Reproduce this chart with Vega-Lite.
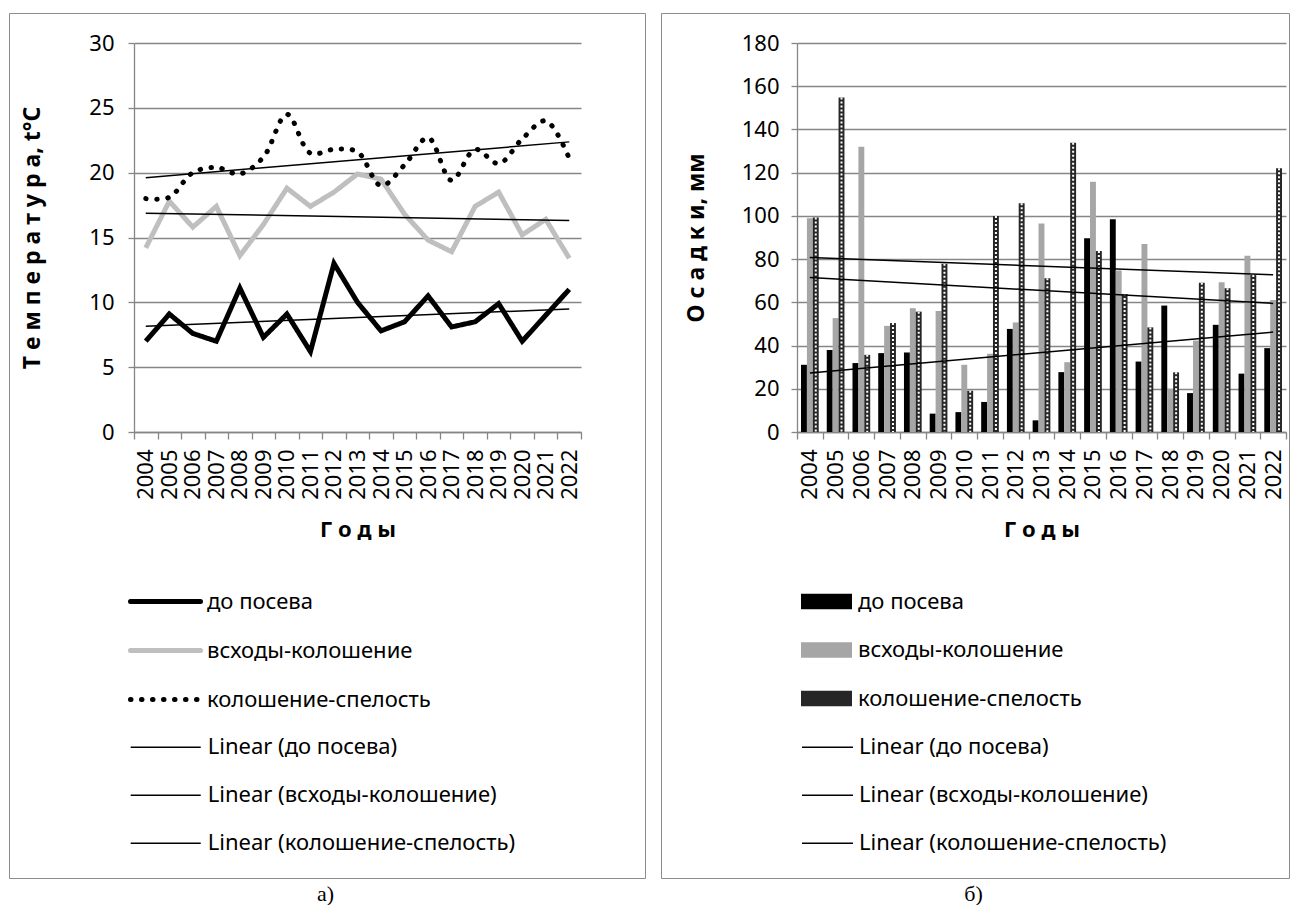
{
  "$schema": "https://vega.github.io/schema/vega-lite/v6.json",
  "background": "white",
  "padding": {"left": 8, "top": 12, "right": 0, "bottom": 0},
  "spacing": 14,
  "resolve": {
    "scale": {"color": "independent", "fill": "independent", "stroke": "independent", "strokeWidth": "independent", "strokeDash": "independent", "xOffset": "independent"},
    "legend": {"color": "independent", "fill": "independent", "stroke": "independent", "strokeWidth": "independent", "strokeDash": "independent"}
  },
  "config": {
    "view": {"stroke": null},
    "font": "Noto Sans",
    "axis": {"labelFont": "Noto Sans", "labelFontSize": 22, "labelColor": "#000000", "domainColor": "#868686", "domainWidth": 1.3, "tickColor": "#868686", "tickWidth": 1.3, "tickSize": 6, "gridColor": "#868686", "gridWidth": 1.3, "titleFont": "Noto Sans", "titleFontWeight": "bold", "titleColor": "#000000"},
    "legend": {"labelFont": "Noto Sans", "labelFontSize": 22, "labelColor": "#000000", "titleFont": "Noto Sans", "labelLimit": 600},
    "title": {"font": "Liberation Serif", "fontSize": 22, "fontWeight": "normal", "color": "#000000", "orient": "bottom", "anchor": "middle"}
  },
  "datasets": {
    "temp": [
      {"year": 2004, "series": "до посева", "trend": "Linear (до посева)", "value": 7.0},
      {"year": 2005, "series": "до посева", "trend": "Linear (до посева)", "value": 9.1},
      {"year": 2006, "series": "до посева", "trend": "Linear (до посева)", "value": 7.6},
      {"year": 2007, "series": "до посева", "trend": "Linear (до посева)", "value": 7.0},
      {"year": 2008, "series": "до посева", "trend": "Linear (до посева)", "value": 11.1},
      {"year": 2009, "series": "до посева", "trend": "Linear (до посева)", "value": 7.3},
      {"year": 2010, "series": "до посева", "trend": "Linear (до посева)", "value": 9.1},
      {"year": 2011, "series": "до посева", "trend": "Linear (до посева)", "value": 6.2},
      {"year": 2012, "series": "до посева", "trend": "Linear (до посева)", "value": 13.0},
      {"year": 2013, "series": "до посева", "trend": "Linear (до посева)", "value": 10.0},
      {"year": 2014, "series": "до посева", "trend": "Linear (до посева)", "value": 7.8},
      {"year": 2015, "series": "до посева", "trend": "Linear (до посева)", "value": 8.5},
      {"year": 2016, "series": "до посева", "trend": "Linear (до посева)", "value": 10.5},
      {"year": 2017, "series": "до посева", "trend": "Linear (до посева)", "value": 8.1},
      {"year": 2018, "series": "до посева", "trend": "Linear (до посева)", "value": 8.5},
      {"year": 2019, "series": "до посева", "trend": "Linear (до посева)", "value": 9.9},
      {"year": 2020, "series": "до посева", "trend": "Linear (до посева)", "value": 7.0},
      {"year": 2021, "series": "до посева", "trend": "Linear (до посева)", "value": 9.0},
      {"year": 2022, "series": "до посева", "trend": "Linear (до посева)", "value": 11.0},
      {"year": 2004, "series": "всходы-колошение", "trend": "Linear (всходы-колошение)", "value": 14.2},
      {"year": 2005, "series": "всходы-колошение", "trend": "Linear (всходы-колошение)", "value": 17.8},
      {"year": 2006, "series": "всходы-колошение", "trend": "Linear (всходы-колошение)", "value": 15.8},
      {"year": 2007, "series": "всходы-колошение", "trend": "Linear (всходы-колошение)", "value": 17.4},
      {"year": 2008, "series": "всходы-колошение", "trend": "Linear (всходы-колошение)", "value": 13.6},
      {"year": 2009, "series": "всходы-колошение", "trend": "Linear (всходы-колошение)", "value": 16.0},
      {"year": 2010, "series": "всходы-колошение", "trend": "Linear (всходы-колошение)", "value": 18.8},
      {"year": 2011, "series": "всходы-колошение", "trend": "Linear (всходы-колошение)", "value": 17.4},
      {"year": 2012, "series": "всходы-колошение", "trend": "Linear (всходы-колошение)", "value": 18.5},
      {"year": 2013, "series": "всходы-колошение", "trend": "Linear (всходы-колошение)", "value": 19.9},
      {"year": 2014, "series": "всходы-колошение", "trend": "Linear (всходы-колошение)", "value": 19.5},
      {"year": 2015, "series": "всходы-колошение", "trend": "Linear (всходы-колошение)", "value": 16.8},
      {"year": 2016, "series": "всходы-колошение", "trend": "Linear (всходы-колошение)", "value": 14.8},
      {"year": 2017, "series": "всходы-колошение", "trend": "Linear (всходы-колошение)", "value": 13.9},
      {"year": 2018, "series": "всходы-колошение", "trend": "Linear (всходы-колошение)", "value": 17.4},
      {"year": 2019, "series": "всходы-колошение", "trend": "Linear (всходы-колошение)", "value": 18.5},
      {"year": 2020, "series": "всходы-колошение", "trend": "Linear (всходы-колошение)", "value": 15.2},
      {"year": 2021, "series": "всходы-колошение", "trend": "Linear (всходы-колошение)", "value": 16.4},
      {"year": 2022, "series": "всходы-колошение", "trend": "Linear (всходы-колошение)", "value": 13.4},
      {"year": 2004, "series": "колошение-спелость", "trend": "Linear (колошение-спелость)", "value": 18.0},
      {"year": 2005, "series": "колошение-спелость", "trend": "Linear (колошение-спелость)", "value": 18.1},
      {"year": 2006, "series": "колошение-спелость", "trend": "Linear (колошение-спелость)", "value": 20.0},
      {"year": 2007, "series": "колошение-спелость", "trend": "Linear (колошение-спелость)", "value": 20.4},
      {"year": 2008, "series": "колошение-спелость", "trend": "Linear (колошение-спелость)", "value": 19.9},
      {"year": 2009, "series": "колошение-спелость", "trend": "Linear (колошение-спелость)", "value": 21.2},
      {"year": 2010, "series": "колошение-спелость", "trend": "Linear (колошение-спелость)", "value": 24.5},
      {"year": 2011, "series": "колошение-спелость", "trend": "Linear (колошение-спелость)", "value": 21.5},
      {"year": 2012, "series": "колошение-спелость", "trend": "Linear (колошение-спелость)", "value": 21.8},
      {"year": 2013, "series": "колошение-спелость", "trend": "Linear (колошение-спелость)", "value": 21.6},
      {"year": 2014, "series": "колошение-спелость", "trend": "Linear (колошение-спелость)", "value": 19.0},
      {"year": 2015, "series": "колошение-спелость", "trend": "Linear (колошение-спелость)", "value": 20.6},
      {"year": 2016, "series": "колошение-спелость", "trend": "Linear (колошение-спелость)", "value": 22.7},
      {"year": 2017, "series": "колошение-спелость", "trend": "Linear (колошение-спелость)", "value": 19.4},
      {"year": 2018, "series": "колошение-спелость", "trend": "Linear (колошение-спелость)", "value": 21.8},
      {"year": 2019, "series": "колошение-спелость", "trend": "Linear (колошение-спелость)", "value": 20.7},
      {"year": 2020, "series": "колошение-спелость", "trend": "Linear (колошение-спелость)", "value": 22.6},
      {"year": 2021, "series": "колошение-спелость", "trend": "Linear (колошение-спелость)", "value": 24.0},
      {"year": 2022, "series": "колошение-спелость", "trend": "Linear (колошение-спелость)", "value": 21.1}
    ],
    "rain": [
      {"year": 2004, "series": "до посева", "trend": "Linear (до посева)", "value": 31.1},
      {"year": 2005, "series": "до посева", "trend": "Linear (до посева)", "value": 38.0},
      {"year": 2006, "series": "до посева", "trend": "Linear (до посева)", "value": 31.9},
      {"year": 2007, "series": "до посева", "trend": "Linear (до посева)", "value": 36.5},
      {"year": 2008, "series": "до посева", "trend": "Linear (до посева)", "value": 36.8},
      {"year": 2009, "series": "до посева", "trend": "Linear (до посева)", "value": 8.5},
      {"year": 2010, "series": "до посева", "trend": "Linear (до посева)", "value": 9.2},
      {"year": 2011, "series": "до посева", "trend": "Linear (до посева)", "value": 13.9},
      {"year": 2012, "series": "до посева", "trend": "Linear (до посева)", "value": 47.7},
      {"year": 2013, "series": "до посева", "trend": "Linear (до посева)", "value": 5.4},
      {"year": 2014, "series": "до посева", "trend": "Linear (до посева)", "value": 27.7},
      {"year": 2015, "series": "до посева", "trend": "Linear (до посева)", "value": 89.6},
      {"year": 2016, "series": "до посева", "trend": "Linear (до посева)", "value": 98.4},
      {"year": 2017, "series": "до посева", "trend": "Linear (до посева)", "value": 32.6},
      {"year": 2018, "series": "до посева", "trend": "Linear (до посева)", "value": 58.5},
      {"year": 2019, "series": "до посева", "trend": "Linear (до посева)", "value": 18.0},
      {"year": 2020, "series": "до посева", "trend": "Linear (до посева)", "value": 49.6},
      {"year": 2021, "series": "до посева", "trend": "Linear (до посева)", "value": 27.0},
      {"year": 2022, "series": "до посева", "trend": "Linear (до посева)", "value": 38.8},
      {"year": 2004, "series": "всходы-колошение", "trend": "Linear (всходы-колошение)", "value": 98.9},
      {"year": 2005, "series": "всходы-колошение", "trend": "Linear (всходы-колошение)", "value": 52.7},
      {"year": 2006, "series": "всходы-колошение", "trend": "Linear (всходы-колошение)", "value": 132.0},
      {"year": 2007, "series": "всходы-колошение", "trend": "Linear (всходы-колошение)", "value": 49.1},
      {"year": 2008, "series": "всходы-колошение", "trend": "Linear (всходы-колошение)", "value": 57.3},
      {"year": 2009, "series": "всходы-колошение", "trend": "Linear (всходы-колошение)", "value": 56.0},
      {"year": 2010, "series": "всходы-колошение", "trend": "Linear (всходы-колошение)", "value": 31.1},
      {"year": 2011, "series": "всходы-колошение", "trend": "Linear (всходы-колошение)", "value": 36.2},
      {"year": 2012, "series": "всходы-колошение", "trend": "Linear (всходы-колошение)", "value": 50.7},
      {"year": 2013, "series": "всходы-колошение", "trend": "Linear (всходы-колошение)", "value": 96.5},
      {"year": 2014, "series": "всходы-колошение", "trend": "Linear (всходы-колошение)", "value": 32.3},
      {"year": 2015, "series": "всходы-колошение", "trend": "Linear (всходы-колошение)", "value": 115.8},
      {"year": 2016, "series": "всходы-колошение", "trend": "Linear (всходы-колошение)", "value": 74.7},
      {"year": 2017, "series": "всходы-колошение", "trend": "Linear (всходы-колошение)", "value": 87.0},
      {"year": 2018, "series": "всходы-колошение", "trend": "Linear (всходы-колошение)", "value": 20.0},
      {"year": 2019, "series": "всходы-колошение", "trend": "Linear (всходы-колошение)", "value": 42.3},
      {"year": 2020, "series": "всходы-колошение", "trend": "Linear (всходы-колошение)", "value": 69.3},
      {"year": 2021, "series": "всходы-колошение", "trend": "Linear (всходы-колошение)", "value": 81.5},
      {"year": 2022, "series": "всходы-колошение", "trend": "Linear (всходы-колошение)", "value": 61.1},
      {"year": 2004, "series": "колошение-спелость", "trend": "Linear (колошение-спелость)", "value": 99.3},
      {"year": 2005, "series": "колошение-спелость", "trend": "Linear (колошение-спелость)", "value": 154.8},
      {"year": 2006, "series": "колошение-спелость", "trend": "Linear (колошение-спелость)", "value": 35.7},
      {"year": 2007, "series": "колошение-спелость", "trend": "Linear (колошение-спелость)", "value": 50.4},
      {"year": 2008, "series": "колошение-спелость", "trend": "Linear (колошение-спелость)", "value": 55.7},
      {"year": 2009, "series": "колошение-спелость", "trend": "Linear (колошение-спелость)", "value": 77.8},
      {"year": 2010, "series": "колошение-спелость", "trend": "Linear (колошение-спелость)", "value": 19.1},
      {"year": 2011, "series": "колошение-спелость", "trend": "Linear (колошение-спелость)", "value": 99.9},
      {"year": 2012, "series": "колошение-спелость", "trend": "Linear (колошение-спелость)", "value": 105.8},
      {"year": 2013, "series": "колошение-спелость", "trend": "Linear (колошение-спелость)", "value": 71.1},
      {"year": 2014, "series": "колошение-спелость", "trend": "Linear (колошение-спелость)", "value": 133.8},
      {"year": 2015, "series": "колошение-спелость", "trend": "Linear (колошение-спелость)", "value": 83.8},
      {"year": 2016, "series": "колошение-спелость", "trend": "Linear (колошение-спелость)", "value": 63.8},
      {"year": 2017, "series": "колошение-спелость", "trend": "Linear (колошение-спелость)", "value": 48.4},
      {"year": 2018, "series": "колошение-спелость", "trend": "Linear (колошение-спелость)", "value": 27.6},
      {"year": 2019, "series": "колошение-спелость", "trend": "Linear (колошение-спелость)", "value": 69.1},
      {"year": 2020, "series": "колошение-спелость", "trend": "Linear (колошение-спелость)", "value": 66.5},
      {"year": 2021, "series": "колошение-спелость", "trend": "Linear (колошение-спелость)", "value": 72.7},
      {"year": 2022, "series": "колошение-спелость", "trend": "Linear (колошение-спелость)", "value": 122.0}
    ]
  },
  "hconcat": [
    {
      "width": 447,
      "height": 389,
      "title": {"text": "а)", "offset": 5, "dx": -32},
      "data": {"name": "temp"},
      "encoding": {
        "x": {
          "field": "year", "type": "ordinal", "bandPosition": 0.5,
          "scale": {"type": "band", "paddingInner": 0, "paddingOuter": 0},
          "axis": {"title": "Г о д ы", "titleFontSize": 22, "titlePadding": 20, "labelAngle": -90, "labelPadding": 10, "tickBand": "extent", "tickSize": 7, "grid": false}
        },
        "y": {
          "field": "value", "type": "quantitative",
          "scale": {"domain": [0, 30]},
          "axis": {"values": [0, 5, 10, 15, 20, 25, 30], "title": "Т е м п е р а т у р а, t°C", "titleFontSize": 23, "titlePadding": 44, "labelPadding": 14, "grid": true}
        }
      },
      "layer": [
        {
          "transform": [{"filter": "datum.series != 'колошение-спелость'"}],
          "mark": {"type": "line", "strokeJoin": "miter"},
          "encoding": {
            "color": {
              "field": "series", "type": "nominal",
              "scale": {"domain": ["до посева", "всходы-колошение", "колошение-спелость"], "range": ["#000000", "#bfbfbf", "#000000"]},
              "legend": {"title": null, "orient": "none", "legendX": -125, "legendY": 521, "padding": 0, "symbolType": "stroke", "symbolSize": 4900, "symbolOffset": 119, "labelOffset": 4, "rowPadding": 0, "encode": {"symbols": {"update": {"strokeCap": {"value": "round"}}}}}
            },
            "strokeWidth": {
              "field": "series", "type": "nominal",
              "scale": {"type": "ordinal", "domain": ["до посева", "всходы-колошение", "колошение-спелость"], "range": [5, 5, 5]},
              "legend": {"title": null, "orient": "none", "legendX": -125, "legendY": 521, "padding": 0, "symbolType": "stroke", "symbolSize": 4900, "symbolOffset": 119, "labelOffset": 4, "rowPadding": 0, "encode": {"symbols": {"update": {"strokeCap": {"value": "round"}}}}}
            },
            "strokeDash": {
              "field": "series", "type": "nominal",
              "scale": {"domain": ["до посева", "всходы-колошение", "колошение-спелость"], "range": [[1, 0], [1, 0], [0.5, 10.5]]},
              "legend": {"title": null, "orient": "none", "legendX": -125, "legendY": 521, "padding": 0, "symbolType": "stroke", "symbolSize": 4900, "symbolOffset": 119, "labelOffset": 4, "rowPadding": 0, "encode": {"symbols": {"update": {"strokeCap": {"value": "round"}}}}}
            }
          }
        },
        {
          "transform": [{"filter": "datum.series == 'колошение-спелость'"}],
          "mark": {"type": "line", "interpolate": "catmull-rom", "stroke": "#000000", "strokeWidth": 5, "strokeDash": [0.5, 10.5], "strokeCap": "round"}
        },
        {
          "transform": [{"regression": "value", "on": "year", "groupby": ["trend"]}],
          "mark": {"type": "line", "strokeWidth": 1.5},
          "encoding": {
            "stroke": {
              "field": "trend", "type": "nominal",
              "scale": {"domain": ["Linear (до посева)", "Linear (всходы-колошение)", "Linear (колошение-спелость)"], "range": ["#000000", "#000000", "#000000"]},
              "legend": {"title": " ", "titleFontSize": 98.3, "titlePadding": 577, "orient": "none", "legendX": -125, "legendY": -30, "padding": 23, "strokeColor": "#8c8c8c", "symbolType": "stroke", "symbolSize": 4900, "symbolStrokeWidth": 1.5, "symbolOffset": 97.7, "labelOffset": 6, "rowPadding": 1, "labelExpr": "datum.label + '\u2003\u2003\u2003\u2003\u2002\u2009\u2009\u200b'"}
            }
          }
        }
      ]
    },
    {
      "width": 489,
      "height": 389,
      "title": {"text": "б)", "offset": 5, "dx": -68},
      "data": {"name": "rain"},
      "encoding": {
        "y": {
          "field": "value", "type": "quantitative",
          "scale": {"domain": [0, 180]},
          "axis": {"values": [0, 20, 40, 60, 80, 100, 120, 140, 160, 180], "title": "О с а д к и, мм", "titleFontSize": 23, "titlePadding": 33, "labelPadding": 12, "grid": true}
        }
      },
      "layer": [
        {
          "mark": {"type": "bar"},
          "encoding": {
            "x": {
              "field": "year", "type": "ordinal",
              "scale": {"type": "band", "paddingInner": 0, "paddingOuter": 0},
              "axis": {"title": "Г о д ы", "titleFontSize": 22, "titlePadding": 20, "labelAngle": -90, "labelPadding": 10, "tickBand": "extent", "tickSize": 7, "grid": false}
            },
            "xOffset": {
              "field": "series", "type": "nominal",
              "scale": {"domain": ["до посева", "всходы-колошение", "колошение-спелость"], "paddingInner": 0, "paddingOuter": 0.68}
            },
            "fill": {
              "field": "series", "type": "nominal",
              "scale": {"domain": ["до посева", "всходы-колошение", "колошение-спелость"], "range": ["#000000", "#a6a6a6", "#262626"]},
              "legend": {"title": null, "orient": "none", "legendX": -136, "legendY": 533, "padding": 0, "symbolType": "M-1,-0.3H1V0.3H-1Z", "symbolSize": 2601, "symbolStrokeWidth": 0, "symbolOffset": 140, "labelOffset": 6, "rowPadding": 11.5}
            }
          }
        },
        {
          "transform": [{"filter": "datum.series == 'колошение-спелость'"}],
          "mark": {"type": "rule", "stroke": "#ffffff", "strokeWidth": 2, "strokeDash": [2, 2]},
          "encoding": {
            "x": {"field": "year", "type": "ordinal"},
            "xOffset": {"field": "series", "type": "nominal"},
            "y2": {"datum": 0}
          }
        },
        {
          "transform": [{"regression": "value", "on": "year", "groupby": ["trend"]}],
          "mark": {"type": "line", "strokeWidth": 1.5},
          "encoding": {
            "x": {"field": "year", "type": "ordinal", "bandPosition": 0.5},
            "stroke": {
              "field": "trend", "type": "nominal",
              "scale": {"domain": ["Linear (до посева)", "Linear (всходы-колошение)", "Linear (колошение-спелость)"], "range": ["#000000", "#000000", "#000000"]},
              "legend": {"title": " ", "titleFontSize": 97.7, "titlePadding": 587, "orient": "none", "legendX": -136, "legendY": -30, "padding": 23, "strokeColor": "#8c8c8c", "symbolType": "stroke", "symbolSize": 2601, "symbolStrokeWidth": 1.5, "symbolOffset": 117, "labelOffset": 5, "rowPadding": 10, "labelExpr": "datum.label + '\u2003\u2003\u2003\u2003\u2002\u200b'"}
            }
          }
        }
      ]
    }
  ]
}
